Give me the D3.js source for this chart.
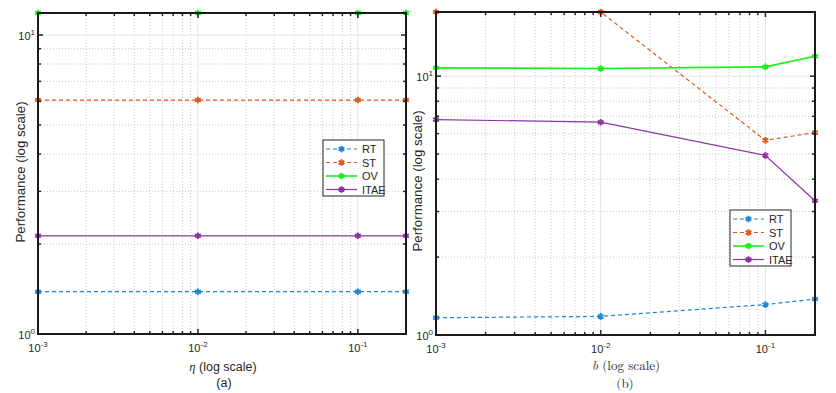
<!DOCTYPE html>
<html>
<head>
<meta charset="utf-8">
<script src="https://cdn.jsdelivr.net/npm/d3@7"></script>
<style>
  body { margin: 0; background: #fff; }
  svg { display: block; }
  text { font-family: "Liberation Sans", Arial, sans-serif; fill: #262626; }
</style>
</head>
<body>
<div id="chart"></div>
<script>
// x values (same for both panels)
const xVals = [0.001, 0.01, 0.1, 0.2];

// panel (a): eta sweep
const etaRT = [1.385, 1.385, 1.385, 1.385];
const etaST = [6.06, 6.06, 6.06, 6.06];
const etaOV = [11.85, 11.85, 11.85, 11.85];
const etaITAE = [2.13, 2.13, 2.13, 2.13];

// panel (b): b sweep
const bRT = [1.166, 1.18, 1.31, 1.377];
const bST = [17.7, 17.7, 5.65, 6.06];
const bOV = [10.77, 10.7, 10.86, 11.94];
const bITAE = [6.8, 6.64, 4.94, 3.3];

const seriesNames = ["RT", "ST", "OV", "ITAE"];
const colors = ["#1f86d6", "#e05a1e", "#19f019", "#8a36a0"];
const dashes = ["4,3", "4,3", null, null];

const W = 836, H = 393;
const svg = d3.select("#chart").append("svg").attr("width", W).attr("height", H);

function panel(opts) {
  const { x0, x1, y0, y1, yMax, series, legend, labelX, labelY } = opts;
  const x = d3.scaleLog().domain([1e-3, 0.2]).range([x0, x1]);
  const y = d3.scaleLog().domain([1, yMax]).range([y1, y0]);
  const g = svg.append("g");

  // minor/major ticks lists
  const xMinor = [], xMajor = [1e-3, 1e-2, 1e-1];
  for (const d of [1e-3, 1e-2, 1e-1]) {
    for (let k = 2; k <= 9; k++) {
      const v = d * k;
      if (v <= 0.2 + 1e-9) xMinor.push(v);
    }
  }
  const yMajor = [1, 10], yMinor = [];
  for (const d of [1, 10]) {
    for (let k = 2; k <= 9; k++) {
      const v = d * k;
      if (v <= yMax) yMinor.push(v);
    }
  }

  // grid
  g.selectAll(".gxm").data(xMinor).enter().append("line")
    .attr("x1", d => x(d)).attr("x2", d => x(d)).attr("y1", y0).attr("y2", y1)
    .attr("stroke", "#bdbdbd").attr("stroke-width", 0.8).attr("stroke-dasharray", "1,2");
  g.selectAll(".gym").data(yMinor).enter().append("line")
    .attr("y1", d => y(d)).attr("y2", d => y(d)).attr("x1", x0).attr("x2", x1)
    .attr("stroke", "#bdbdbd").attr("stroke-width", 0.8).attr("stroke-dasharray", "1,2");
  g.selectAll(".gxM").data(xMajor).enter().append("line")
    .attr("x1", d => x(d)).attr("x2", d => x(d)).attr("y1", y0).attr("y2", y1)
    .attr("stroke", "#e3e3e3").attr("stroke-width", 1);
  g.selectAll(".gyM").data(yMajor).enter().append("line")
    .attr("y1", d => y(d)).attr("y2", d => y(d)).attr("x1", x0).attr("x2", x1)
    .attr("stroke", "#e3e3e3").attr("stroke-width", 1);

  // series
  const line = d3.line().x(d => x(d[0])).y(d => y(d[1]));
  series.forEach((vals, i) => {
    const pts = xVals.map((v, j) => [v, vals[j]]);
    g.append("path").datum(pts).attr("d", line)
      .attr("fill", "none").attr("stroke", colors[i])
      .attr("stroke-width", i === 2 ? 1.6 : 1.2)
      .attr("stroke-dasharray", dashes[i]);
    g.selectAll(null).data(pts).enter().append("path")
      .attr("d", d3.symbol().type(d3.symbolAsterisk).size(30))
      .attr("transform", d => `translate(${x(d[0])},${y(d[1])})`)
      .attr("stroke", colors[i]).attr("stroke-width", 2).attr("fill", "none");
  });

  // ticks (inward, on all sides)
  const tk = [];
  xMajor.forEach(v => tk.push({ x: x(v), len: 5, dir: "x" }));
  xMinor.forEach(v => tk.push({ x: x(v), len: 3, dir: "x" }));
  yMajor.forEach(v => tk.push({ y: y(v), len: 5, dir: "y" }));
  yMinor.forEach(v => tk.push({ y: y(v), len: 3, dir: "y" }));
  tk.forEach(t => {
    if (t.dir === "x") {
      g.append("line").attr("x1", t.x).attr("x2", t.x).attr("y1", y1).attr("y2", y1 - t.len).attr("stroke", "#262626").attr("stroke-width", 1.5);
      g.append("line").attr("x1", t.x).attr("x2", t.x).attr("y1", y0).attr("y2", y0 + t.len).attr("stroke", "#262626").attr("stroke-width", 1.5);
    } else {
      g.append("line").attr("y1", t.y).attr("y2", t.y).attr("x1", x0).attr("x2", x0 + t.len).attr("stroke", "#262626").attr("stroke-width", 1.5);
      g.append("line").attr("y1", t.y).attr("y2", t.y).attr("x1", x1).attr("x2", x1 - t.len).attr("stroke", "#262626").attr("stroke-width", 1.5);
    }
  });

  // box
  g.append("rect").attr("x", x0).attr("y", y0).attr("width", x1 - x0).attr("height", y1 - y0)
    .attr("fill", "none").attr("stroke", "#1a1a1a").attr("stroke-width", 2);

  // tick labels
  const xlab = g.selectAll(".xl").data(xMajor).enter().append("text")
    .attr("x", d => x(d)).attr("y", y1 + 18).attr("text-anchor", "middle").attr("font-size", 11);
  xlab.append("tspan").text("10");
  xlab.append("tspan").attr("dy", -5).attr("font-size", 8).text(d => Math.round(Math.log10(d)));
  const ylab = g.selectAll(".yl").data(yMajor).enter().append("text")
    .attr("x", x0 - 3).attr("y", d => y(d) + 5).attr("text-anchor", "end").attr("font-size", 11);
  ylab.append("tspan").text("10");
  ylab.append("tspan").attr("dy", -5).attr("font-size", 8).text(d => Math.round(Math.log10(d)));

  // y label
  g.append("text").attr("transform", `translate(${labelX},${labelY}) rotate(-90)`)
    .attr("text-anchor", "middle").attr("font-size", 13.3).text("Performance (log scale)");

  // legend
  const lg = g.append("g").attr("transform", `translate(${legend[0]},${legend[1]})`);
  lg.append("rect").attr("width", 61).attr("height", 56).attr("fill", "#fff")
    .attr("stroke", "#262626").attr("stroke-width", 1);
  seriesNames.forEach((n, i) => {
    const yy = 9 + i * 13.5;
    lg.append("line").attr("x1", 3).attr("x2", 34).attr("y1", yy).attr("y2", yy)
      .attr("stroke", colors[i]).attr("stroke-width", i === 2 ? 1.6 : 1.2).attr("stroke-dasharray", dashes[i]);
    lg.append("path").attr("d", d3.symbol().type(d3.symbolAsterisk).size(30))
      .attr("transform", `translate(18.5,${yy})`).attr("stroke", colors[i]).attr("stroke-width", 2);
    lg.append("text").attr("x", 39).attr("y", yy + 4).attr("font-size", 11).text(n);
  });
  return g;
}

panel({ x0: 38, x1: 406, y0: 13, y1: 334, yMax: 11.85,
  series: [etaRT, etaST, etaOV, etaITAE], legend: [323, 140], labelX: 25, labelY: 172 });
panel({ x0: 436, x1: 815, y0: 12, y1: 335, yMax: 17.7,
  series: [bRT, bST, bOV, bITAE], legend: [730, 210], labelX: 422, labelY: 181 });

// x labels and captions
const serif = "'Latin Modern Roman', 'Liberation Serif', 'DejaVu Serif', serif";
const la = svg.append("text").attr("x", 223).attr("y", 371).attr("text-anchor", "middle").attr("font-size", 12.5);
la.append("tspan").style("font-family", serif).style("font-style", "italic").text("η");
la.append("tspan").text("  (log scale)");
svg.append("text").attr("x", 224).attr("y", 387).attr("text-anchor", "middle").attr("font-size", 12.5).text("(a)");

const lb = svg.append("text").attr("x", 626).attr("y", 370).attr("text-anchor", "middle")
  .attr("font-size", 13).style("font-family", serif);
lb.append("tspan").style("font-style", "italic").text("b");
lb.append("tspan").text(" (log scale)");
svg.append("text").attr("x", 625).attr("y", 388).attr("text-anchor", "middle")
  .attr("font-size", 13).style("font-family", serif).text("(b)");
</script>
</body>
</html>
